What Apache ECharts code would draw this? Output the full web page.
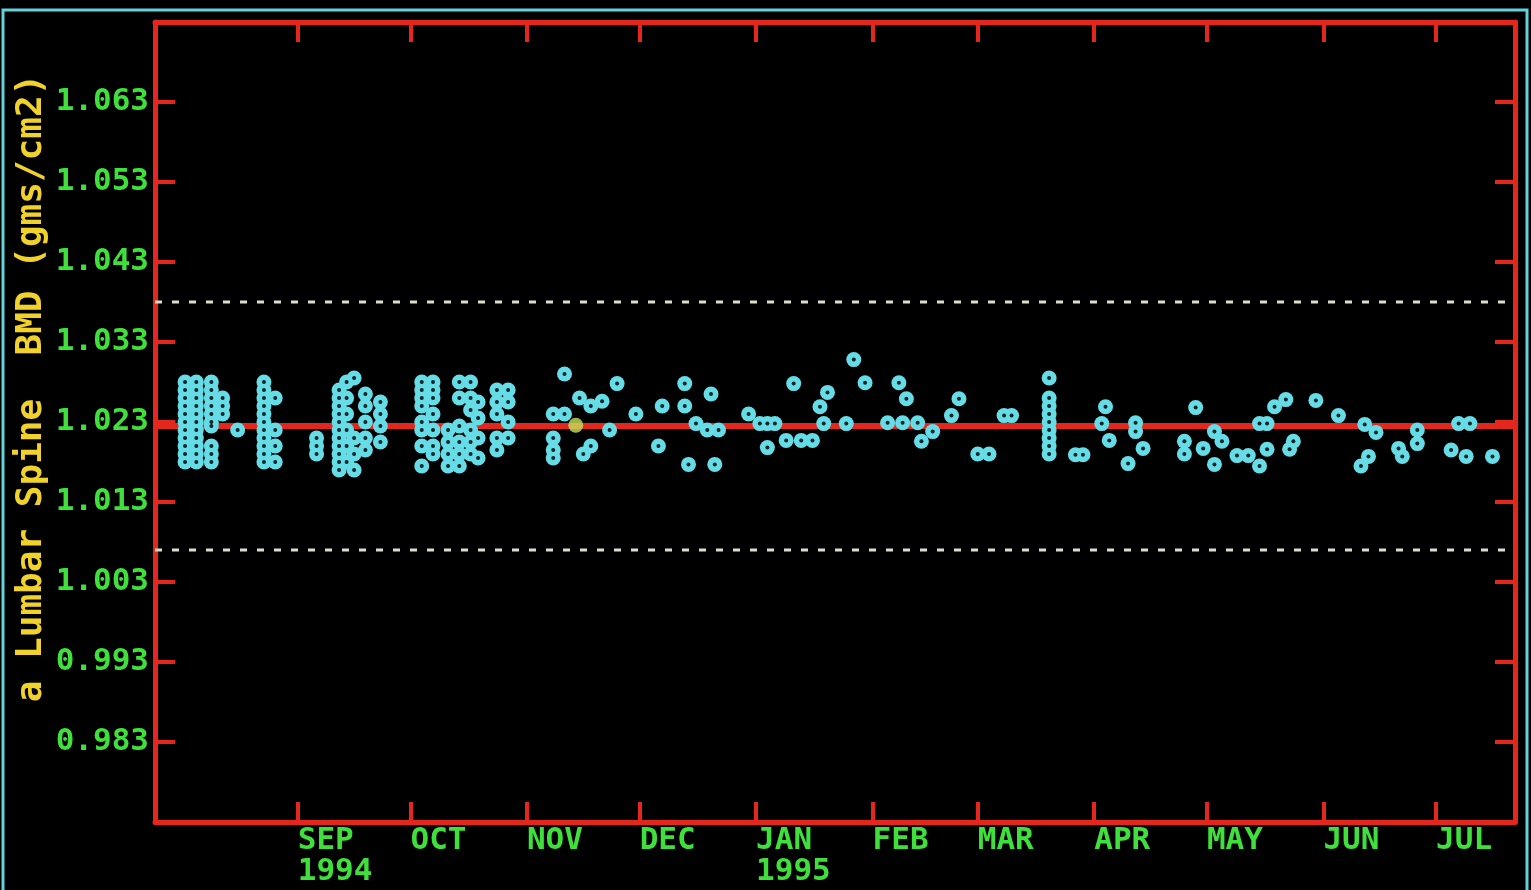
<!DOCTYPE html>
<html><head><meta charset="utf-8">
<script src="https://cdn.jsdelivr.net/npm/echarts@6/dist/echarts.min.js"></script>
<style>html,body{margin:0;padding:0;background:#000;width:1531px;height:890px;overflow:hidden}#c{width:1531px;height:890px}</style>
</head><body><div id="c"></div>
<script>
// ---- data ----
const monthTicks = ['1994-09-01','1994-10-01','1994-11-01','1994-12-01','1995-01-01','1995-02-01','1995-03-01','1995-04-01','1995-05-01','1995-06-01','1995-07-01'];
const monthLabels = ['SEP\n1994','OCT','NOV','DEC','JAN\n1995','FEB','MAR','APR','MAY','JUN','JUL'];
const yTicks = [0.983,0.993,1.003,1.013,1.023,1.033,1.043,1.053,1.063];
const xStart = '1994-07-25';
const xEnd = '1995-07-22';
const yMin = 0.973;
const yMax = 1.073;
const meanBmd = 1.0225;
const upperLimit = 1.038;
const lowerLimit = 1.007;
const yTitle = 'a Lumbar Spine  BMD (gms/cm2)';

const scanDates = [
 '1994-08-02','1994-08-05','1994-08-09','1994-08-12','1994-08-16','1994-08-23','1994-08-26',
 '1994-09-06','1994-09-12','1994-09-14','1994-09-16','1994-09-19','1994-09-23',
 '1994-10-04','1994-10-07','1994-10-11','1994-10-14','1994-10-17','1994-10-19','1994-10-24','1994-10-27',
 '1994-11-08','1994-11-11','1994-11-15','1994-11-16','1994-11-18','1994-11-21','1994-11-23','1994-11-25','1994-11-30',
 '1994-12-06','1994-12-07','1994-12-13','1994-12-14','1994-12-16','1994-12-19','1994-12-20','1994-12-21','1994-12-22','1994-12-30',
 '1995-01-02','1995-01-04','1995-01-06','1995-01-09','1995-01-11','1995-01-13','1995-01-16','1995-01-18','1995-01-19','1995-01-20','1995-01-25','1995-01-27','1995-01-30',
 '1995-02-05','1995-02-08','1995-02-09','1995-02-10','1995-02-13','1995-02-14','1995-02-17','1995-02-22','1995-02-24',
 '1995-03-01','1995-03-04','1995-03-08','1995-03-10','1995-03-20','1995-03-27','1995-03-29',
 '1995-04-03','1995-04-04','1995-04-05','1995-04-10','1995-04-12','1995-04-14','1995-04-25','1995-04-28','1995-04-30',
 '1995-05-03','1995-05-05','1995-05-09','1995-05-12','1995-05-15','1995-05-17','1995-05-19','1995-05-22','1995-05-23','1995-05-24','1995-05-30',
 '1995-06-05','1995-06-11','1995-06-12','1995-06-13','1995-06-15','1995-06-21','1995-06-22','1995-06-26',
 '1995-07-05','1995-07-07','1995-07-09','1995-07-10','1995-07-16'
];
const scanBmd = [
 [1.028,1.027,1.026,1.025,1.024,1.023,1.022,1.021,1.020,1.019,1.018],
 [1.028,1.027,1.026,1.025,1.024,1.023,1.022,1.021,1.020,1.019,1.018],
 [1.028,1.027,1.026,1.025,1.024,1.023,1.0225,1.020,1.019,1.018],
 [1.026,1.025,1.024],
 [1.022],
 [1.028,1.027,1.026,1.025,1.024,1.023,1.022,1.021,1.020,1.019,1.018],
 [1.026,1.022,1.020,1.018],
 [1.021,1.020,1.019],
 [1.027,1.026,1.025,1.024,1.023,1.022,1.021,1.020,1.019,1.018,1.017],
 [1.028,1.026,1.024,1.022,1.020,1.018],
 [1.0285,1.021,1.019,1.017],
 [1.0265,1.025,1.023,1.021,1.0195],
 [1.0255,1.024,1.0225,1.0205],
 [1.028,1.027,1.026,1.025,1.023,1.022,1.020,1.0175],
 [1.028,1.027,1.026,1.024,1.022,1.020,1.019],
 [1.022,1.0205,1.019,1.0175],
 [1.028,1.026,1.0225,1.0205,1.019,1.0175],
 [1.028,1.026,1.0245,1.022,1.0205,1.019],
 [1.0255,1.0235,1.021,1.0185],
 [1.027,1.0255,1.024,1.021,1.0195],
 [1.027,1.0255,1.023,1.021],
 [1.024,1.021,1.0195,1.0185],
 [1.029,1.024],
 [1.026],[1.019],[1.025,1.020],[1.0256],[1.022],[1.0278],[1.024],
 [1.020],[1.025],[1.025,1.0278],[1.0177],[1.0228],[1.022],[1.0265],[1.0177],[1.022],[1.024],
 [1.0228],[1.0228,1.0198],[1.0228],[1.0207],[1.0278],[1.0207],[1.0207],[1.0249],[1.0228],[1.0267],[1.0228],[1.0308],[1.0279],
 [1.0229],[1.0279],[1.0229],[1.0259],[1.0229],[1.0206],[1.0218],[1.0238],[1.0259],
 [1.019],[1.019],[1.0238],[1.0238],
 [1.0285,1.026,1.025,1.024,1.023,1.022,1.021,1.020,1.019],
 [1.0189],[1.0189],
 [1.0228],[1.0249],[1.0207],[1.0178],[1.0229,1.0218],[1.0197],[1.0206,1.019],[1.0248],[1.0197],
 [1.0218,1.0177],[1.0206],[1.0188],[1.0188],[1.0228,1.0175],[1.0228,1.0196],[1.0249],[1.0258],[1.0196],[1.0206],[1.0257],
 [1.0238],[1.0175],[1.0227],[1.0187],[1.0217],[1.0197],[1.0187],[1.022,1.0203],
 [1.0195],[1.0228],[1.0187],[1.0228],[1.0187]
];
const currentDate = '1994-11-14';
const currentBmd = 1.0226;

// ---- helpers ----
function parseLocal(s){ const p = s.split('-').map(Number); return new Date(p[0], p[1]-1, p[2]).getTime(); }
const tickTimes = monthTicks.map(parseLocal);
const xMinT = parseLocal(xStart), xMaxT = parseLocal(xEnd);
const points = [];
scanDates.forEach((d, i) => scanBmd[i].forEach(v => points.push([parseLocal(d), v])));
const hline = v => [[xMinT, v], [xMaxT, v]];

const RED = '#e4261c';
const GREEN = '#3fe03c';
const CYAN = '#66dce6';
const DOTS = '#dcdccc';
const FONT = '"DejaVu Sans Mono", monospace';

const chart = echarts.init(document.getElementById('c'), null, {renderer:'canvas'});
const baseX = {
  type:'value', min: xMinT, max: xMaxT, scale:true,
  axisLine:{show:true, onZero:false, lineStyle:{color:RED, width:5}},
  axisTick:{show:true, inside:true, length:20, lineStyle:{color:RED, width:4}, customValues: tickTimes},
  splitLine:{show:false}, minorTick:{show:false}
};
const baseY = {
  type:'value', min:yMin, max:yMax, scale:true,
  axisLine:{show:true, onZero:false, lineStyle:{color:RED, width:5}},
  axisTick:{show:true, inside:true, length:20, lineStyle:{color:RED, width:4}, customValues: yTicks},
  splitLine:{show:false}
};
const option = {
  backgroundColor:'#000',
  animation:false,
  grid:{left:155, top:22, width:1360, height:800, show:false},
  xAxis:[
    Object.assign({}, baseX, {position:'bottom',
      axisLabel:{show:true, customValues: tickTimes, color:GREEN, fontFamily:FONT, fontWeight:'bold', fontSize:31, lineHeight:31, align:'left', margin:3,
        formatter: function(v){ for (let i=0;i<tickTimes.length;i++){ if (Math.abs(tickTimes[i]-v) < 43200000) return monthLabels[i]; } return ''; }}}),
    Object.assign({}, baseX, {position:'top', axisLabel:{show:false}})
  ],
  yAxis:[
    Object.assign({}, baseY, {position:'left',
      axisLabel:{show:true, customValues: yTicks, color:GREEN, fontFamily:FONT, fontWeight:'bold', fontSize:31, margin:6,
        formatter: v => Number(v).toFixed(3)}}),
    Object.assign({}, baseY, {position:'right', axisLabel:{show:false}})
  ],
  graphic:[
    {type:'rect', shape:{x:3, y:10, width:1524, height:900}, style:{fill:'transparent', stroke:'#62d2da', lineWidth:3}, silent:true},
    {type:'text', x:32, y:388, rotation:Math.PI/2, style:{text:yTitle, fill:'#f0d22a', font:'bold 36px "DejaVu Sans Mono", monospace', textAlign:'center', textVerticalAlign:'middle'}, silent:true}
  ],
  series:[
    {type:'line', data:hline(meanBmd), symbol:'none', z:1, silent:true, lineStyle:{color:RED, width:6, type:'solid'}},
    {type:'line', data:hline(upperLimit), symbol:'none', z:1, silent:true, lineStyle:{color:DOTS, width:3, type:[7,10]}},
    {type:'line', data:hline(lowerLimit), symbol:'none', z:1, silent:true, lineStyle:{color:DOTS, width:3, type:[7,10]}},
    {type:'scatter', data:points, symbol:'circle', symbolSize:15, z:3, itemStyle:{color:CYAN, opacity:1}},
    {type:'scatter', data:points, symbol:'circle', symbolSize:4, z:4, itemStyle:{color:'#0a2428', opacity:1}},
    {type:'scatter', data:[[parseLocal(currentDate), currentBmd]], symbol:'circle', symbolSize:15, z:5, itemStyle:{color:'#c4e25a'}}
  ]
};
chart.setOption(option);
</script>
</body></html>
